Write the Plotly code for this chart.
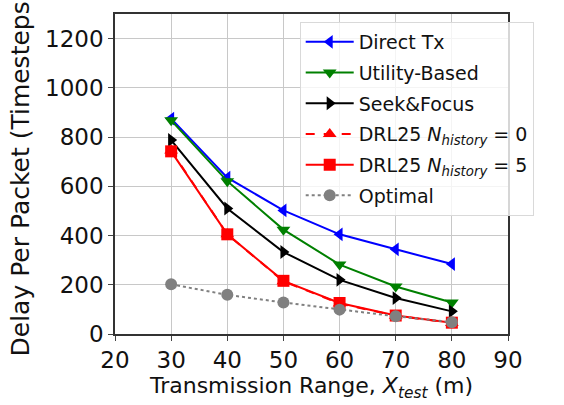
import plotly.graph_objects as go

# Transmission range values (m)
x_range = [30, 40, 50, 60, 70, 80]

# Average delay per packet (timesteps) for each scheme
direct_tx = [875, 635, 502, 405, 344, 284]
utility_based = [868, 621, 424, 282, 193, 128]
seek_focus = [788, 510, 333, 220, 146, 92]
drl25_h0 = [745, 405, 214, 124, 74, 45]
drl25_h5 = [742, 405, 216, 126, 75, 46]
optimal = [202, 159, 128, 99, 72, 48]

x_ticks = [20, 30, 40, 50, 60, 70, 80, 90]
y_ticks = [0, 200, 400, 600, 800, 1000, 1200]

series = [
    ("Direct Tx", direct_tx, "#0000ff", "triangle-left", "solid"),
    ("Utility-Based", utility_based, "#008000", "triangle-down", "solid"),
    ("Seek&Focus", seek_focus, "#000000", "triangle-right", "solid"),
    ("DRL25 <i>N</i><sub><i>history</i></sub> = 0", drl25_h0, "#ff0000", "triangle-up", "dash"),
    ("DRL25 <i>N</i><sub><i>history</i></sub> = 5", drl25_h5, "#ff0000", "square", "solid"),
    ("Optimal", optimal, "#808080", "circle", "dot"),
]

fig = go.Figure()
for i, (name, ys, color, symbol, dash) in enumerate(series):
    fig.add_trace(go.Scatter(
        x=x_range, y=ys, name=name, mode="lines+markers",
        line=dict(color=color, width=2, dash=dash),
        marker=dict(symbol=symbol, size=12, color=color),
        legendgroup=f"g{i}",
    ))

font_family = "DejaVu Sans, sans-serif"
fig.update_layout(
    width=564, height=405,
    margin=dict(l=115, r=56, t=14, b=67),
    plot_bgcolor="white", paper_bgcolor="white",
    font=dict(family=font_family, size=22, color="#111111"),
    legend=dict(
        x=0.47, y=0.975, xanchor="left", yanchor="top",
        bgcolor="rgba(255,255,255,0.8)", bordercolor="#d9d9d9", borderwidth=1,
        font=dict(size=19, color="#111111"), tracegroupgap=3,
        itemwidth=48,
    ),
    xaxis=dict(
        range=[20, 90], tickvals=x_ticks, ticks="outside", ticklen=5,
        showgrid=True, gridcolor="#c8c8c8", gridwidth=1,
        showline=True, linecolor="#333333", linewidth=1.5, mirror=True,
        zeroline=False,
        title=dict(text="Transmission Range, <i>X</i><sub><i>test</i></sub> (m)", standoff=4,
                   font=dict(size=22)),
        tickfont=dict(size=23),
    ),
    yaxis=dict(
        range=[0, 1300], tickvals=y_ticks, ticks="outside", ticklen=5,
        showgrid=True, gridcolor="#c8c8c8", gridwidth=1,
        showline=True, linecolor="#333333", linewidth=1.5, mirror=True,
        zeroline=False,
        title=dict(text="Delay Per Packet (Timesteps)", standoff=8, font=dict(size=25)),
        tickfont=dict(size=23),
    ),
)

fig.write_html("out.html")
